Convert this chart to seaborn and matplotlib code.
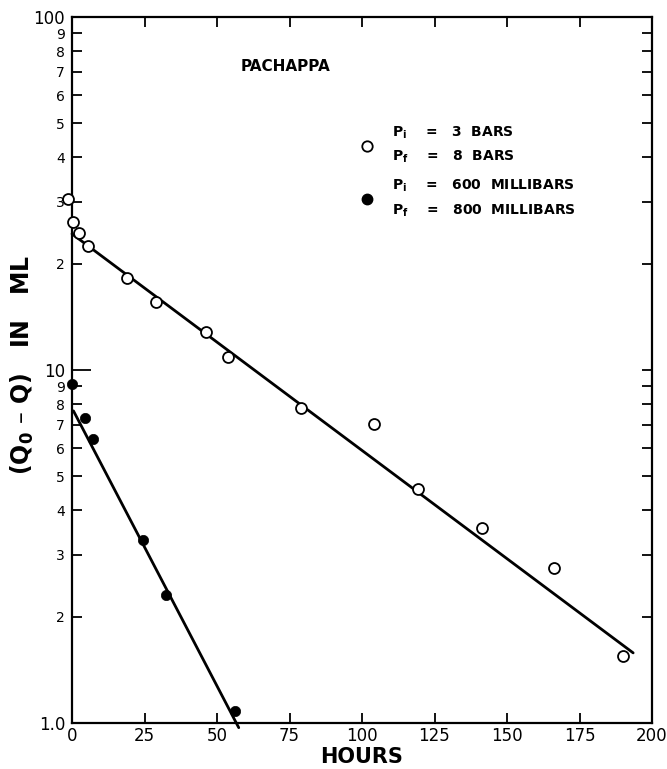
import numpy as np
import pandas as pd
import matplotlib
matplotlib.use('Agg')
import matplotlib.pyplot as plt
import seaborn as sns
from matplotlib.ticker import FixedLocator, NullLocator
from matplotlib.lines import Line2D

# open circles: Pi = 3 bars, Pf = 8 bars
hours_bars = [-1.5, 0.5, 2.5, 5.5, 18.9, 28.9, 46.1, 53.7, 78.9, 104.1, 119.2, 141.3, 166.2, 190.0]
q_bars = [30.6, 26.2, 24.5, 22.5, 18.2, 15.6, 12.8, 10.9, 7.81, 7.04, 4.6, 3.57, 2.75, 1.55]

# filled circles: Pi = 600 mb, Pf = 800 mb
hours_mb = [0.1, 4.5, 7.1, 24.4, 32.4, 56.2]
q_mb = [9.12, 7.3, 6.38, 3.29, 2.31, 1.08]

# fitted lines (end points)
fit_bars_x = [0.0, 193.5]
fit_bars_y = [24.3, 1.58]
fit_mb_x = [0.5, 57.5]
fit_mb_y = [7.66, 0.97]

y_ticks = [1, 2, 3, 4, 5, 6, 7, 8, 9, 10, 20, 30, 40, 50, 60, 70, 80, 90, 100]
y_labels = ['1.0', '2', '3', '4', '5', '6', '7', '8', '9', '10',
            '2', '3', '4', '5', '6', '7', '8', '9', '100']
x_ticks = [0, 25, 50, 75, 100, 125, 150, 175, 200]

df_bars = pd.DataFrame({'hours': hours_bars, 'q': q_bars})
df_mb = pd.DataFrame({'hours': hours_mb, 'q': q_mb})

sns.set_style('ticks')
plt.rcParams['font.family'] = ['DejaVu Sans']
plt.rcParams['mathtext.default'] = 'regular'
for k in ['text.color', 'axes.labelcolor', 'xtick.color', 'ytick.color', 'axes.edgecolor']:
    plt.rcParams[k] = 'black'

fig = plt.figure(figsize=(6.67, 7.69), dpi=100)
ax = fig.add_axes([72 / 667, 1 - 723 / 769, 580 / 667, 706 / 769])

sns.lineplot(x=fit_bars_x, y=fit_bars_y, color='black', lw=2, ax=ax, clip_on=False)
sns.lineplot(x=fit_mb_x, y=fit_mb_y, color='black', lw=2, ax=ax, clip_on=False)
sns.scatterplot(data=df_bars, x='hours', y='q', marker='o', s=62, color='white',
                edgecolor='black', linewidth=1.3, ax=ax, clip_on=False, zorder=3)
sns.scatterplot(data=df_mb, x='hours', y='q', marker='o', s=55, color='black',
                edgecolor='black', linewidth=0.5, ax=ax, clip_on=False, zorder=3)

ax.set_yscale('log')
ax.set_ylim(1, 100)
ax.set_xlim(0, 200)
ax.yaxis.set_major_locator(FixedLocator(y_ticks))
ax.yaxis.set_minor_locator(NullLocator())
ax.set_yticklabels(y_labels)
ax.set_xticks(x_ticks)
ax.set_xticklabels([str(t) for t in x_ticks])

ax.tick_params(which='major', direction='in', length=7, width=1.3,
               left=True, right=True, top=True, bottom=True, pad=3)
ax.tick_params(axis='x', labelsize=12)
ax.tick_params(axis='y', labelsize=10, pad=5)
for lab in ax.get_yticklabels():
    if lab.get_text() in ('1.0', '10', '100'):
        lab.set_fontsize(12)
# longer tick at 10
ticks = ax.yaxis.get_major_ticks()
ticks[9].tick1line.set_markersize(14)

for sp in ax.spines.values():
    sp.set_linewidth(1.6)
    sp.set_visible(True)

ax.set_xlabel('HOURS', fontsize=15, fontweight='bold', labelpad=1)
ax.set_ylabel('')
fig.text(22 / 667, 1 - 365 / 769, '(Q$_0$ \u2013 Q)   IN   ML', rotation=90,
         ha='center', va='center', fontsize=17, fontweight='bold')

ax.text(0.29, 0.93, 'PACHAPPA', transform=ax.transAxes, fontsize=11,
        fontweight='bold', ha='left', va='center')

handles = [
    Line2D([], [], marker='o', ls='', markersize=7.5, markerfacecolor='white',
           markeredgecolor='black', markeredgewidth=1.3),
    Line2D([], [], marker='o', ls='', markersize=7.5, markerfacecolor='black',
           markeredgecolor='black'),
]
labels = ['P$_i$    =   3  BARS\nP$_f$    =   8  BARS',
          'P$_i$    =   600  MILLIBARS\nP$_f$    =   800  MILLIBARS']
leg = ax.legend(handles, labels, loc='upper left', bbox_to_anchor=(0.463, 0.865),
                frameon=False, prop={'size': 10, 'weight': 'bold'},
                labelspacing=0.9, handletextpad=0.8)
for t in leg.get_texts():
    t.set_linespacing(1.65)

fig.savefig('out.png', dpi=100)
